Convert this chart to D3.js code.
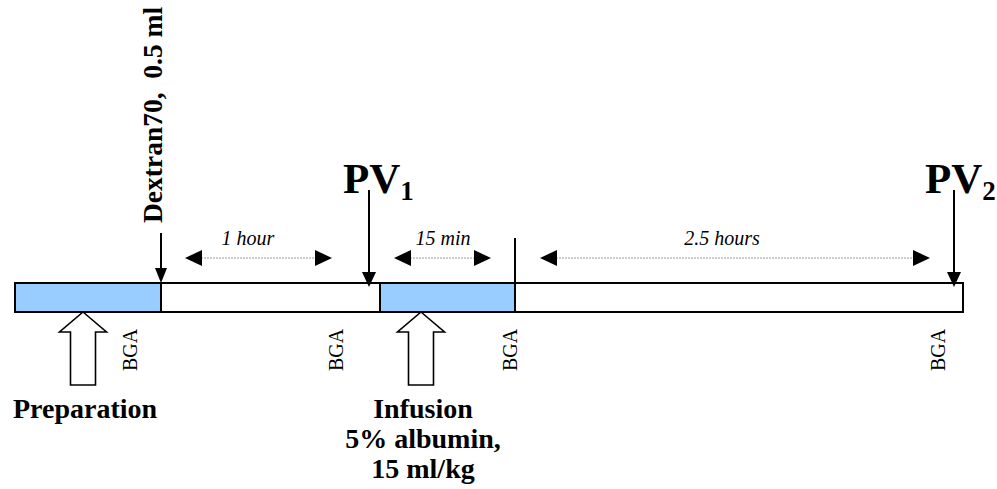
<!DOCTYPE html>
<html>
<head>
<meta charset="utf-8">
<script src="https://cdn.jsdelivr.net/npm/d3@7/dist/d3.min.js"></script>
<style>
html,body{margin:0;padding:0;background:#fff;}
svg{display:block;}
</style>
</head>
<body>
<svg id="c" width="997" height="489"></svg>
<script>
// Schematic timeline positions (diagram units)
const segStart = [15, 161, 380, 515];
const segEnd   = [161, 380, 515, 963];
const segFill  = ["#99CCFF", "#FFFFFF", "#99CCFF", "#FFFFFF"];

const spanLabels = ["1 hour", "15 min", "2.5 hours"];
const spanFrom   = [185, 394, 540];
const spanTo     = [332, 491, 930];
const spanText   = [248, 443, 722];

const bgaPos = [137, 343, 517, 945];

const pvLabels = ["1", "2"];
const pvPos    = [369, 954];
const pvTextX  = [343, 925];

const dextranPos = 161;
const infusionMarkPos = 515;

const upArrowPos = [83, 421];
const upArrowText = [["Preparation"], ["Infusion", "5% albumin,", "15 ml/kg"]];

const svg = d3.select("#c");
const x = d3.scaleLinear().domain([0, 997]).range([0, 997]);
const barTop = 283, barBot = 312;
const serif = "'Liberation Serif','Times New Roman',serif";

// bar segments
svg.selectAll("rect.seg").data(segStart).join("rect")
  .attr("x", (d) => x(d)).attr("y", barTop)
  .attr("width", (d, i) => x(segEnd[i]) - x(d)).attr("height", barBot - barTop)
  .attr("fill", (d, i) => segFill[i]).attr("stroke", "#000").attr("stroke-width", 2);

// vertical marker at end of infusion
svg.append("line").attr("x1", x(infusionMarkPos)).attr("x2", x(infusionMarkPos))
  .attr("y1", 238).attr("y2", barTop).attr("stroke", "#000").attr("stroke-width", 2);

// span arrows
const spanY = 258;
spanFrom.forEach((f, i) => {
  const a = x(f), b = x(spanTo[i]);
  svg.append("line").attr("x1", a + 16).attr("x2", b - 16).attr("y1", spanY).attr("y2", spanY)
    .attr("stroke", "#9a9a9a").attr("stroke-width", 1).attr("stroke-dasharray", "2,1");
  svg.append("path").attr("d", `M${a},${spanY} L${a + 17},${spanY - 8} L${a + 17},${spanY + 8} Z`).attr("fill", "#000");
  svg.append("path").attr("d", `M${b},${spanY} L${b - 17},${spanY - 8} L${b - 17},${spanY + 8} Z`).attr("fill", "#000");
  svg.append("text").attr("x", x(spanText[i])).attr("y", 245)
    .attr("text-anchor", "middle").attr("font-family", serif).attr("font-style", "italic")
    .attr("font-size", 20).text(spanLabels[i]);
});

// Dextran arrow and label
svg.append("line").attr("x1", x(dextranPos)).attr("x2", x(dextranPos)).attr("y1", 233).attr("y2", 270)
  .attr("stroke", "#000").attr("stroke-width", 2);
svg.append("path").attr("d", `M${x(dextranPos)},${barTop} L${x(dextranPos) - 6},${268} L${x(dextranPos) + 6},${268} Z`).attr("fill", "#000");
svg.append("text").attr("transform", `translate(${x(dextranPos) + 1},223) rotate(-90)`)
  .attr("font-family", serif).attr("font-weight", "bold").attr("font-size", 27.5)
  .attr("xml:space", "preserve").text("Dextran70,  0.5 ml");

// PV arrows and labels
pvPos.forEach((p, i) => {
  const px = x(p);
  svg.append("line").attr("x1", px).attr("x2", px).attr("y1", 190).attr("y2", 274)
    .attr("stroke", "#000").attr("stroke-width", 2);
  svg.append("path").attr("d", `M${px},287 L${px - 7},272 L${px + 7},272 Z`).attr("fill", "#000");
  const t = svg.append("text").attr("x", x(pvTextX[i])).attr("y", 193)
    .attr("font-family", serif).attr("font-weight", "bold").attr("font-size", 43);
  t.append("tspan").text("PV");
  t.append("tspan").attr("font-size", 27).attr("dy", 7).text(pvLabels[i]);
});

// BGA labels
svg.selectAll("text.bga").data(bgaPos).join("text")
  .attr("transform", (d) => `translate(${x(d)},371) rotate(-90)`)
  .attr("font-family", serif).attr("font-size", 20).text("BGA");

// hollow up arrows + labels
upArrowPos.forEach((p, i) => {
  const c = x(p);
  const pts = [[c, barBot], [c + 23.5, 332], [c + 12.5, 332], [c + 12.5, 385], [c - 12.5, 385], [c - 12.5, 332], [c - 23.5, 332]];
  svg.append("polygon").attr("points", pts.map((q) => q.join(",")).join(" "))
    .attr("fill", "#fff").attr("stroke", "#000").attr("stroke-width", 1.6);
  upArrowText[i].forEach((line, j) => {
    svg.append("text").attr("x", c + 2).attr("y", 418 + j * 30)
      .attr("text-anchor", "middle").attr("font-family", serif).attr("font-weight", "bold")
      .attr("font-size", 28).text(line);
  });
});
</script>
</body>
</html>
